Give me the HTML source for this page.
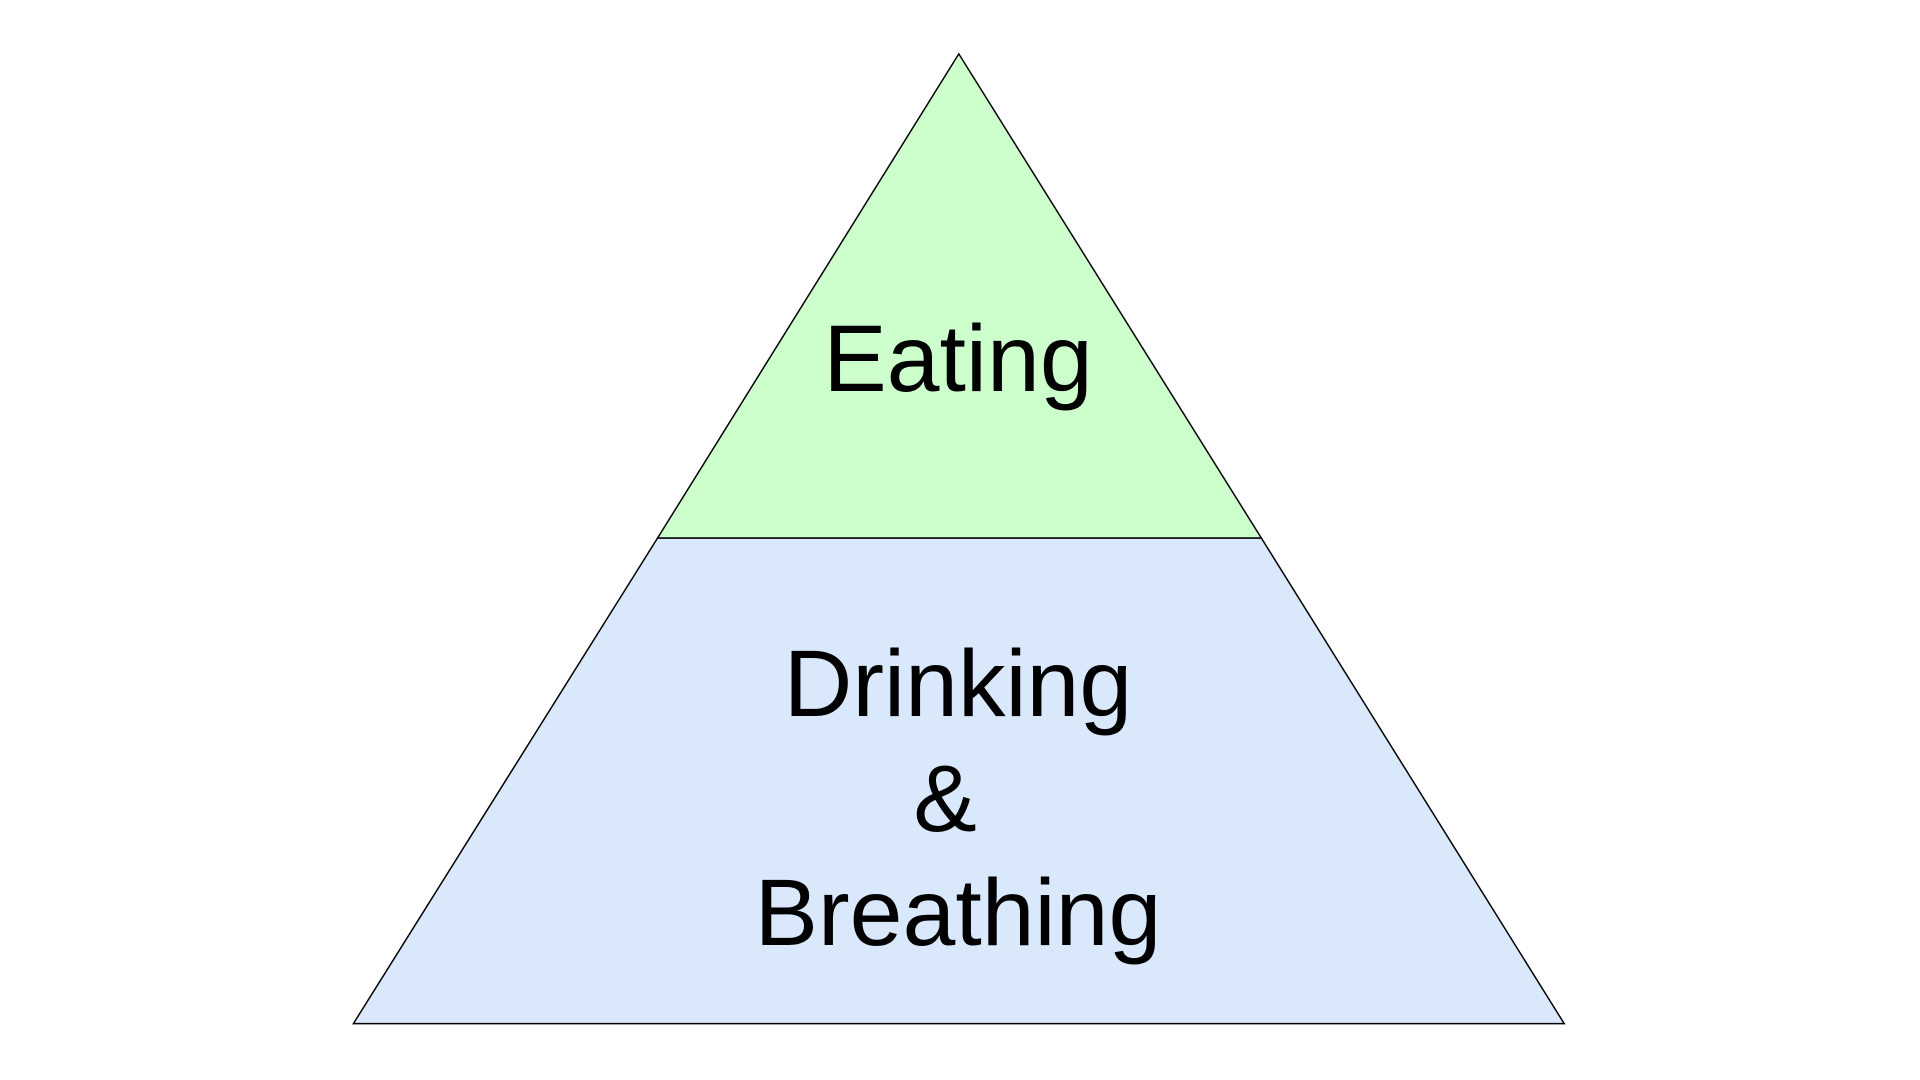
<!DOCTYPE html>
<html>
<head>
<meta charset="utf-8">
<style>
html,body{margin:0;padding:0;background:#fff;width:1920px;height:1080px;overflow:hidden}
svg{display:block}
text{font-family:"Liberation Sans",Arial,sans-serif;fill:#000}
</style>
</head>
<body>
<svg id="chart" width="1920" height="1080" viewBox="0 0 1920 1080">
<polygon points="657.6,538 1261.3,538 1564.2,1023.6 353.4,1023.6" fill="#dae8fc" stroke="#000" stroke-width="1.5"/>
<polygon points="958.8,53.9 1261.3,538 657.6,538" fill="#ccffcc" stroke="#000" stroke-width="1.5"/>
<text x="958" y="391" font-size="95" text-anchor="middle">Eating</text>
<text x="958" y="716" font-size="95" text-anchor="middle">Drinking</text>
<text x="945" y="831" font-size="95" text-anchor="middle">&amp;</text>
<text x="958" y="945" font-size="95" text-anchor="middle">Breathing</text>
</svg>
</body>
</html>
